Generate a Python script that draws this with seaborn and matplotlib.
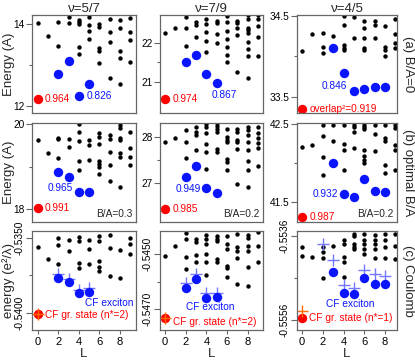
import numpy as np
import pandas as pd
import matplotlib
matplotlib.use("Agg")
import matplotlib.pyplot as plt
import seaborn as sns

# ---- data ----
fillings = ["ν=5/7", "ν=7/9", "ν=4/5"]
row_names = ["(a) B/A=0", "(b) optimal B/A", "(c) Coulomb"]

# black spectra, one list of energies per L = 0..9
bk_57_a = [[14.03], [13.72], [14.06, 13.47], [14.18, 14.02], [14.11, 14.05, 14.0, 13.45, 13.27],
           [14.18, 13.97, 13.82, 13.64], [14.0, 13.93, 13.41, 13.33, 13.04], [14.13, 13.81, 13.55, 12.69],
           [14.1, 13.9, 13.34, 13.17, 12.53], [14.15, 13.8, 13.61, 13.08]]
bk_79_a = [[22.25], [22.36], [22.65, 22.37, 21.92], [22.53, 22.45, 22.14], [22.61, 22.48, 22.26, 22.03, 21.75],
           [22.55, 22.49, 22.22, 21.98], [22.67, 22.52, 22.29, 22.09, 21.89, 21.69, 21.50],
           [22.56, 22.49, 22.38, 22.20, 21.24], [22.70, 22.60, 22.38, 22.32, 22.24, 22.02, 21.83, 21.67, 21.10],
           [22.69, 22.60, 22.43, 22.13, 21.67]]
bk_45_a = [[34.06], [34.28], [34.29, 34.12, 34.04], [34.25], [34.50, 34.39, 34.14, 34.10, 34.08],
           [34.48, 34.23], [34.44, 34.35, 34.23, 34.10, 34.08], [34.43, 34.39, 34.22],
           [34.38, 34.11, 34.08, 34.00], [34.46, 34.28, 34.17, 34.10]]
bk_57_b = [[19.61], [19.31], [19.68, 19.65, 19.21], [19.65, 19.45], [20.0, 19.80, 19.59, 19.13, 18.91],
           [19.62, 19.50, 19.15], [19.78, 19.70, 19.53, 19.12, 19.06, 19.0, 18.83],
           [19.74, 19.65, 19.35, 19.03, 18.65], [19.98, 19.91, 19.68, 19.63, 19.32, 19.22, 18.53],
           [19.81, 19.43, 19.22, 19.04]]
bk_79_b = [[27.90], [27.99], [28.15, 27.90, 27.54], [28.23, 28.12, 28.04, 27.73],
           [28.28, 28.22, 28.10, 27.85, 27.68, 27.31], [28.31, 28.24, 28.17, 28.11, 27.75, 27.69],
           [28.19, 28.01, 27.95, 27.89, 27.53, 27.47, 27.28], [28.18, 28.11, 27.95, 27.89, 27.75, 26.98],
           [28.23, 28.15, 28.06, 27.90, 27.72, 27.49, 27.28, 26.92], [28.22, 28.10, 27.98, 27.87, 27.77, 27.37]]
bk_45_b = [[42.21], [42.23], [42.48, 42.35, 42.08, 41.85], [42.48, 42.28], [42.48, 42.24, 42.17, 41.91],
           [42.48, 42.46, 42.39, 42.19], [42.48, 42.46, 42.44, 42.17, 42.09, 42.04, 42.00],
           [42.48, 42.37, 42.15], [42.48, 42.32, 42.28, 41.97, 41.88], [42.48, 42.45, 42.23, 42.17, 41.91]]
bk_57_c = [[-0.53560], [-0.53643], [-0.53504, -0.53548, -0.53675], [-0.53515, -0.53588],
           [-0.53493, -0.53522, -0.53666, -0.53703], [-0.53515, -0.53577, -0.53673],
           [-0.53489, -0.53524, -0.53655, -0.53695, -0.53721], [-0.53482, -0.53570, -0.53752],
           [-0.53582, -0.53770], [-0.53504, -0.53542, -0.53606]]
bk_79_c = [[-0.54506], [-0.54469], [-0.54423, -0.54444, -0.54511, -0.54555],
           [-0.54445, -0.54454, -0.54503, -0.54527], [-0.54429, -0.54444, -0.54462, -0.54499, -0.54529, -0.54576],
           [-0.54435, -0.54444, -0.54450, -0.54518, -0.54530],
           [-0.54432, -0.54462, -0.54482, -0.54542, -0.54551, -0.54583],
           [-0.54427, -0.54472, -0.54489, -0.54515, -0.54610],
           [-0.54429, -0.54440, -0.54470, -0.54487, -0.54548, -0.54616], [-0.54417, -0.54470, -0.54530]]
bk_45_c = [[-0.55386, -0.55408], [-0.55410], [-0.55386, -0.55399, -0.55413, -0.55460], [-0.55383],
           [-0.55370, -0.55380, -0.55410, -0.55422, -0.55458], [-0.55354, -0.55360, -0.55378, -0.55386, -0.55391],
           [-0.55356, -0.55370, -0.55378, -0.55390, -0.55402], [-0.55357, -0.55370, -0.55380, -0.55391, -0.55413],
           [-0.55356, -0.55370, -0.55386, -0.55413], [-0.55356, -0.55383, -0.55414]]

# exciton branch (blue) and ground state (red)
exc_L_57 = [2, 3, 4, 5]
exc_L_79 = [2, 3, 4, 5]
exc_L_45 = [3, 4, 5, 6, 7, 8]
exc_57_a = [12.79, 13.11, 12.25, 12.53]
exc_79_a = [21.50, 21.68, 21.21, 20.98]
exc_45_a = [34.10, 33.79, 33.57, 33.60, 33.62, 33.62]
exc_57_b = [18.87, 18.76, 18.40, 18.40]
exc_79_b = [27.14, 27.38, 26.90, 26.79]
exc_45_b = [42.00, 41.61, 41.57, 41.80, 41.65, 41.63]
exc_57_c = [-0.53766, -0.53796, -0.53869, -0.53859]
exc_79_c = [-0.54624, -0.54590, -0.54660, -0.54657]
exc_45_c = [-0.55446, -0.55497, -0.55500, -0.55460, -0.55476, -0.55476]
gs_a = [12.16, 20.56, 33.35]
gs_b = [18.02, 26.44, 41.31]
gs_c = [-0.54007, -0.54734, -0.55556]

# composite fermion energies (crosses)
cf_L_57 = [2, 3, 4, 5]
cf_L_79 = [2, 3, 4, 5]
cf_L_45 = [2, 3, 4, 5, 6, 7, 8]
cf_57 = [-0.53741, -0.53776, -0.53847, -0.53836]
cf_79 = [-0.54606, -0.54572, -0.54641, -0.54640]
cf_45 = [-0.55378, -0.55418, -0.55477, -0.55485, -0.55442, -0.55450, -0.55455]
cf_gs = [-0.54007, -0.54734, -0.55540]
cf_nstar = [2, 2, 1]

# overlaps
ov_gs_a = ["0.964", "0.974", "overlap²=0.919"]
ov_exc_a = ["0.826", "0.867", "0.846"]
ov_gs_b = ["0.991", "0.985", "0.987"]
ov_exc_b = ["0.965", "0.949", "0.932"]
ba_opt = ["0.3", "0.2", "0.2"]

# y ticks: (labelled, minor)
yt_a = [([12, 14], [13]), ([21, 22], [21.5]), ([33.5, 34.5], [34.0])]
yt_b = [([18, 20], [19]), ([27, 28], [27.5]), ([41.5, 42.5], [42.0])]
yt_c = [([-0.5400, -0.5350], [-0.5375]), ([-0.5470, -0.5450], [-0.5460]), ([-0.5556, -0.5536], [-0.5546])]
ylim_a = [(11.83, 14.22), (20.21, 22.70), (33.30, 34.51)]
ylim_b = [(17.70, 20.02), (26.16, 28.31), (41.25, 42.51)]
ylim_c = [(-0.54113, -0.53456), (-0.54777, -0.54415), (-0.55585, -0.55348)]

# ---- style ----
sns.set_style("ticks")
plt.rcParams['font.family'] = ['Liberation Sans', 'DejaVu Sans']
plt.rcParams['axes.edgecolor'] = '#666666'
plt.rcParams['axes.linewidth'] = 0.9
plt.rcParams['xtick.color'] = '#666666'
plt.rcParams['ytick.color'] = '#666666'
plt.rcParams['xtick.labelcolor'] = 'black'
plt.rcParams['ytick.labelcolor'] = 'black'

BLUE = '#0a14ff'
RED = '#ff0000'
PLUS_BLUE = '#7478ff'
ORANGE = '#ff6a00'
SMALL = 7.3
BIG = 9.5

W, H = 415, 362
fig = plt.figure(figsize=(W / 100, H / 100), dpi=100)
cols_px = [(32, 136), (160, 263), (297, 397)]
rows_px = [(15, 113), (123, 222), (231, 330)]
xlims = [(-0.55, 9.55), (-0.5, 9.5), (-0.48, 9.15)]


def to_df(levels):
    return pd.DataFrame([(L, e) for L, es in enumerate(levels) for e in es], columns=['L', 'E'])


black = [[bk_57_a, bk_79_a, bk_45_a], [bk_57_b, bk_79_b, bk_45_b], [bk_57_c, bk_79_c, bk_45_c]]
exc = [[exc_57_a, exc_79_a, exc_45_a], [exc_57_b, exc_79_b, exc_45_b], [exc_57_c, exc_79_c, exc_45_c]]
exc_L = [exc_L_57, exc_L_79, exc_L_45]
gs = [gs_a, gs_b, gs_c]
yts = [yt_a, yt_b, yt_c]
ylims = [ylim_a, ylim_b, ylim_c]
cf_L = [cf_L_57, cf_L_79, cf_L_45]
cf_E = [cf_57, cf_79, cf_45]

for r in range(3):
    for c in range(3):
        x0, x1 = cols_px[c]
        y0, y1 = rows_px[r]
        ax = fig.add_axes([x0 / W, 1 - y1 / H, (x1 - x0) / W, (y1 - y0) / H])
        sns.scatterplot(data=to_df(black[r][c]), x='L', y='E', ax=ax, color='black',
                        s=10, linewidth=0, legend=False)
        if r == 2:
            sns.scatterplot(x=cf_L[c], y=cf_E[c], ax=ax, marker='+', color=PLUS_BLUE,
                            s=70, linewidth=1.0, legend=False)
        sns.scatterplot(x=exc_L[c], y=exc[r][c], ax=ax, color=BLUE, s=46, linewidth=0, legend=False)
        sns.scatterplot(x=[0], y=[gs[r][c]], ax=ax, color=RED, s=46, linewidth=0, legend=False)
        if r == 2:
            sns.scatterplot(x=[0], y=[cf_gs[c]], ax=ax, marker='+', color=ORANGE,
                            s=70, linewidth=1.0, legend=False)

        ax.set_xlim(*xlims[c])
        ax.set_ylim(*ylims[r][c])
        major, minor = yts[r][c]
        ax.set_yticks(major)
        ax.set_yticks(minor, minor=True)
        ax.tick_params(axis='y', which='major', length=4, width=0.8, pad=1.5, labelsize=SMALL)
        ax.tick_params(axis='y', which='minor', length=2.5, width=0.8)
        if r == 2:
            ax.set_yticklabels([f"{v:.4f}" for v in major], rotation=90, va='center')
            ax.set_xticks([0, 2, 4, 6, 8])
            ax.tick_params(axis='x', length=3, width=0.8, pad=2, labelsize=SMALL + 0.7)
            ax.set_xlabel('L', fontsize=BIG, labelpad=1)
        else:
            ax.set_yticklabels([f"{v:g}" for v in major])
            ax.set_xticks([])
            ax.set_xlabel('')
        ax.set_ylabel('')
        if r == 0:
            ax.set_title(fillings[c], fontsize=BIG, pad=2)

        # annotations
        if r == 0:
            ax.text(0.7, gs[r][c], ov_gs_a[c], color=RED, fontsize=SMALL, ha='left', va='center')
            pos = [(4.75, 12.25, 'left'), (4.5, 20.67, 'left'), (4.35, 33.63, 'right')][c]
            ax.text(pos[0], pos[1], ov_exc_a[c], color=BLUE, fontsize=SMALL, ha=pos[2], va='center')
        elif r == 1:
            ax.text(0.7, gs[r][c], ov_gs_b[c], color=RED, fontsize=SMALL, ha='left', va='center')
            pos = [(3.45, 18.49), (3.43, 26.88), (3.48, 41.61)][c]
            ax.text(pos[0], pos[1], ov_exc_b[c], color=BLUE, fontsize=SMALL, ha='right', va='center')
            ax.text(0.965, 0.03, f"B/A={ba_opt[c]}", transform=ax.transAxes, fontsize=SMALL,
                    ha='right', va='bottom')
        else:
            epos = [(4.6, -0.53934, 'left'), (4.4, -0.54692, 'center'), (4.6, -0.55523, 'center')][c]
            ax.text(epos[0], epos[1], "CF exciton", color=BLUE, fontsize=SMALL, ha=epos[2], va='center')
            gpos = [-0.54015, -0.54748, -0.55557][c]
            ax.text(0.72, gpos, f"CF gr. state (n*={cf_nstar[c]})", color=RED, fontsize=SMALL,
                    ha='left', va='center')

for r in range(3):
    yc = (rows_px[r][0] + rows_px[r][1]) / 2
    fig.text(408 / W, 1 - yc / H, row_names[r], rotation=270, fontsize=BIG, ha='center', va='center')
    lab = "Energy (A)" if r < 2 else "energy (e²/λ)"
    fig.text(9 / W, 1 - yc / H, lab, rotation=90, fontsize=BIG, ha='center', va='center')

fig.savefig("out.png", dpi=100)
